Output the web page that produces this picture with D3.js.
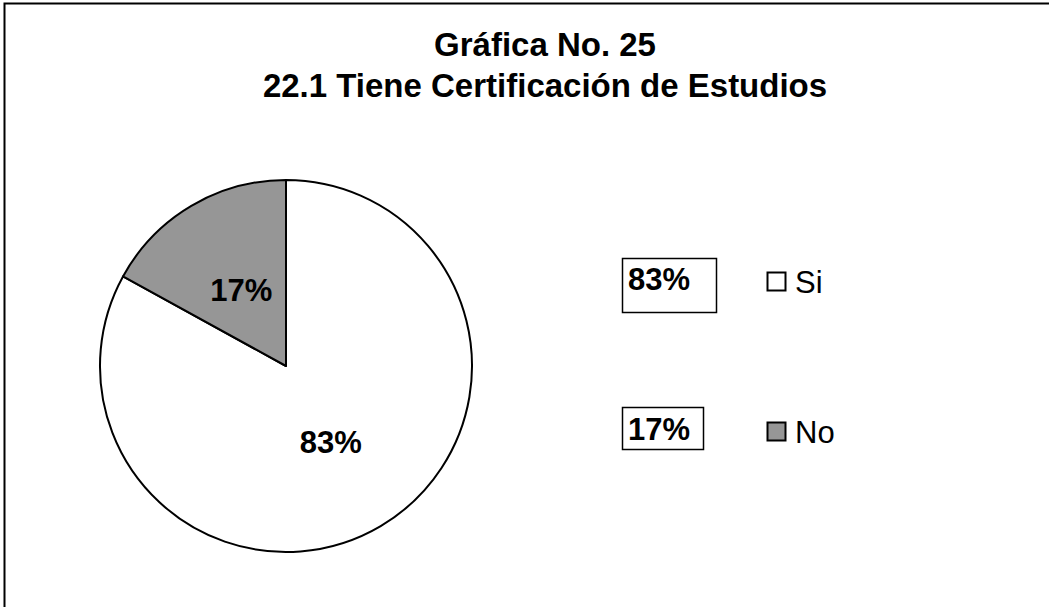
<!DOCTYPE html>
<html><head><meta charset="utf-8">
<script src="https://cdn.jsdelivr.net/npm/d3@7"></script>
<style>body{margin:0;background:#fff}svg{display:block}</style>
</head><body><svg id="c" width="1049" height="607"></svg>
<script>
const categories = ["Si", "No"];
const values = [83, 17];
const labels = ["83%", "17%"];
const colors = ["#ffffff", "#969696"];
const titleLines = ["Gráfica No. 25", "22.1 Tiene Certificación de Estudios"];

const svg = d3.select("#c");
const font = "Arial, 'Liberation Sans', sans-serif";
svg.append("rect").attr("x", 4.5).attr("y", 3.5).attr("width", 1100).attr("height", 700)
  .attr("fill", "#fff").attr("stroke", "#000").attr("stroke-width", 2);

svg.selectAll("text.title").data(titleLines).enter().append("text")
  .attr("x", 545).attr("y", (d, i) => 56 + i * 41)
  .attr("text-anchor", "middle").attr("font-family", font)
  .attr("font-weight", "bold").attr("font-size", 33).text(d => d);

const cx = 286, cy = 366, r = 186;
const pie = d3.pie().sort(null).value(d => d);
const arcs = pie(values);
const arc = d3.arc().innerRadius(0).outerRadius(r);
const labArc = d3.arc().innerRadius(0).outerRadius(176);
const g = svg.append("g").attr("transform", `translate(${cx},${cy})`);
g.selectAll("path").data(arcs).enter().append("path")
  .attr("d", arc).attr("fill", (d, i) => colors[i])
  .attr("stroke", "#000").attr("stroke-width", 2).attr("stroke-linejoin", "round");
g.selectAll("text").data(arcs).enter().append("text")
  .attr("transform", d => `translate(${labArc.centroid(d)})`)
  .attr("text-anchor", "middle").attr("dy", "0.36em")
  .attr("font-family", font).attr("font-weight", "bold").attr("font-size", 31)
  .text((d, i) => labels[i]);

const legY = [290, 440];
const boxes = [[622.5, 258.5, 94, 54], [622.5, 407.5, 81, 42]];
const lg = svg.append("g");
categories.forEach((c, i) => {
  const y = legY[i];
  const b = boxes[i];
  lg.append("rect").attr("x", b[0]).attr("y", b[1]).attr("width", b[2]).attr("height", b[3])
    .attr("fill", "#fff").attr("stroke", "#000").attr("stroke-width", 1.5);
  lg.append("text").attr("x", 628).attr("y", y)
    .attr("font-family", font).attr("font-weight", "bold").attr("font-size", 31).text(labels[i]);
  lg.append("rect").attr("x", 767.5).attr("y", y - 17.5).attr("width", 18).attr("height", 18)
    .attr("fill", colors[i]).attr("stroke", "#000").attr("stroke-width", 2);
  lg.append("text").attr("x", 795).attr("y", y + 3)
    .attr("font-family", font).attr("font-size", 31).text(c);
});
</script></body></html>
